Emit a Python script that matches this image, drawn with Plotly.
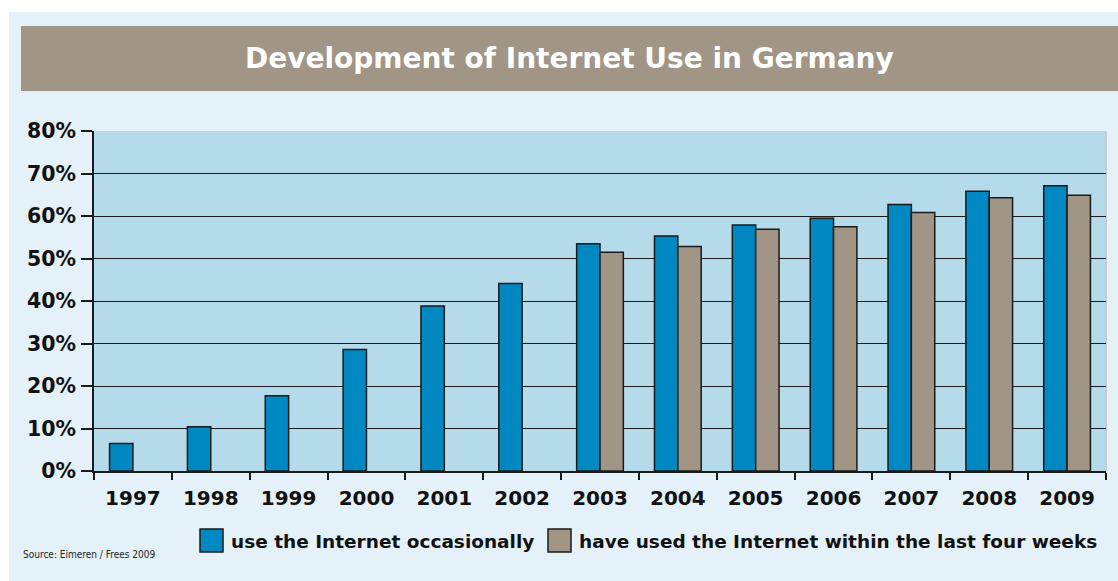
import plotly.graph_objects as go

# Online study figures (share of German population, in %)
years = ["1997", "1998", "1999", "2000", "2001", "2002", "2003",
         "2004", "2005", "2006", "2007", "2008", "2009"]
occasional = [6.5, 10.4, 17.7, 28.6, 38.8, 44.1, 53.5,
              55.3, 57.9, 59.5, 62.7, 65.8, 67.1]
last_four_weeks = [None, None, None, None, None, None, 51.5,
                   52.8, 56.9, 57.5, 60.8, 64.3, 64.9]
y_ticks = [0, 10, 20, 30, 40, 50, 60, 70, 80]
y_tick_labels = ["0%", "10%", "20%", "30%", "40%", "50%", "60%", "70%", "80%"]

title_text = "Development of Internet Use in Germany"
legend_labels = ["use the Internet occasionally",
                 "have used the Internet within the last four weeks"]
source_text = "Source: Eimeren / Frees 2009"

BLUE = "#0088c3"
GRAY = "#a19686"
PANEL = "#e4f1f8"
PLOT_BG = "#b5dbeb"
EDGE = "#1a1a1a"

W, H = 1118, 581
ML, MR, MT, MB = 94, 12, 131, 110
PW, PH = W - ML - MR, H - MT - MB


def px(x):
    return (x - ML) / PW


def py(y):
    return (H - MB - y) / PH


fig = go.Figure()
fig.add_trace(go.Bar(x=years, y=occasional, name=legend_labels[0],
                     marker=dict(color=BLUE, line=dict(color=EDGE, width=1.5))))
fig.add_trace(go.Bar(x=years, y=last_four_weeks, name=legend_labels[1],
                     marker=dict(color=GRAY, line=dict(color=EDGE, width=1.5))))

shapes = [
    # light panel behind everything
    dict(type="rect", xref="paper", yref="paper", layer="below",
         x0=px(9), x1=px(W), y0=py(12), y1=py(H),
         fillcolor=PANEL, line=dict(width=0)),
    # title band
    dict(type="rect", xref="paper", yref="paper", layer="below",
         x0=px(21), x1=px(W), y0=py(26), y1=py(91),
         fillcolor=GRAY, line=dict(width=0)),
    # plot area with a faint right edge
    dict(type="rect", xref="paper", yref="paper", layer="below",
         x0=0, x1=1, y0=0, y1=1, fillcolor=PLOT_BG, line=dict(width=0)),
    dict(type="line", xref="paper", yref="paper", layer="below",
         x0=1, x1=1, y0=0, y1=1, line=dict(color="#c4ccd0", width=2)),
]

annotations = [
    dict(text=title_text, xref="paper", yref="paper", x=px(569), y=py(58),
         xanchor="center", yanchor="middle", showarrow=False,
         font=dict(family="DejaVu Sans", size=28, color="white", weight="bold")),
    dict(text=source_text, xref="paper", yref="paper", x=px(21), y=py(554),
         xanchor="left", yanchor="middle", showarrow=False,
         font=dict(family="DejaVu Sans Condensed, DejaVu Sans", size=10,
                   color="#222222")),
]

# hand-placed legend: swatches and labels
legend_items = [(200, BLUE, legend_labels[0]), (548, GRAY, legend_labels[1])]
for x0, color, label in legend_items:
    shapes.append(dict(type="rect", xref="paper", yref="paper",
                       x0=px(x0), x1=px(x0 + 23), y0=py(529), y1=py(552),
                       fillcolor=color, line=dict(color=EDGE, width=1.5)))
    annotations.append(dict(text=label, xref="paper", yref="paper",
                            x=px(x0 + 29), y=py(541), xanchor="left",
                            yanchor="middle", showarrow=False,
                            font=dict(family="DejaVu Sans", size=18.5,
                                      color="#111111", weight="bold")))

fig.update_layout(
    width=W, height=H,
    margin=dict(l=ML, r=MR, t=MT, b=MB, pad=0),
    paper_bgcolor="white",
    plot_bgcolor=PLOT_BG,
    barmode="group", bargap=0.4, bargroupgap=0,
    showlegend=False,
    shapes=shapes,
    annotations=annotations,
    font=dict(family="DejaVu Sans", color="#111111"),
    xaxis=dict(
        type="category", showgrid=False, showline=True,
        linecolor=EDGE, linewidth=1.5,
        ticks="outside", tickson="boundaries", ticklen=7,
        tickcolor=EDGE, tickwidth=1.5, ticklabelstandoff=8,
        tickfont=dict(size=20, weight="bold", color="#111111"),
    ),
    yaxis=dict(
        range=[0, 80], tickmode="array", tickvals=y_ticks,
        ticktext=y_tick_labels,
        showgrid=True, gridcolor=EDGE, gridwidth=1.3,
        zeroline=False, showline=True, linecolor=EDGE, linewidth=1.5,
        ticks="outside", ticklen=11, tickcolor=EDGE, tickwidth=1.5,
        ticklabelstandoff=1,
        tickfont=dict(size=20.5, weight="bold", color="#111111"),
    ),
)

fig.write_html("out.html", config=dict(displayModeBar=False))
